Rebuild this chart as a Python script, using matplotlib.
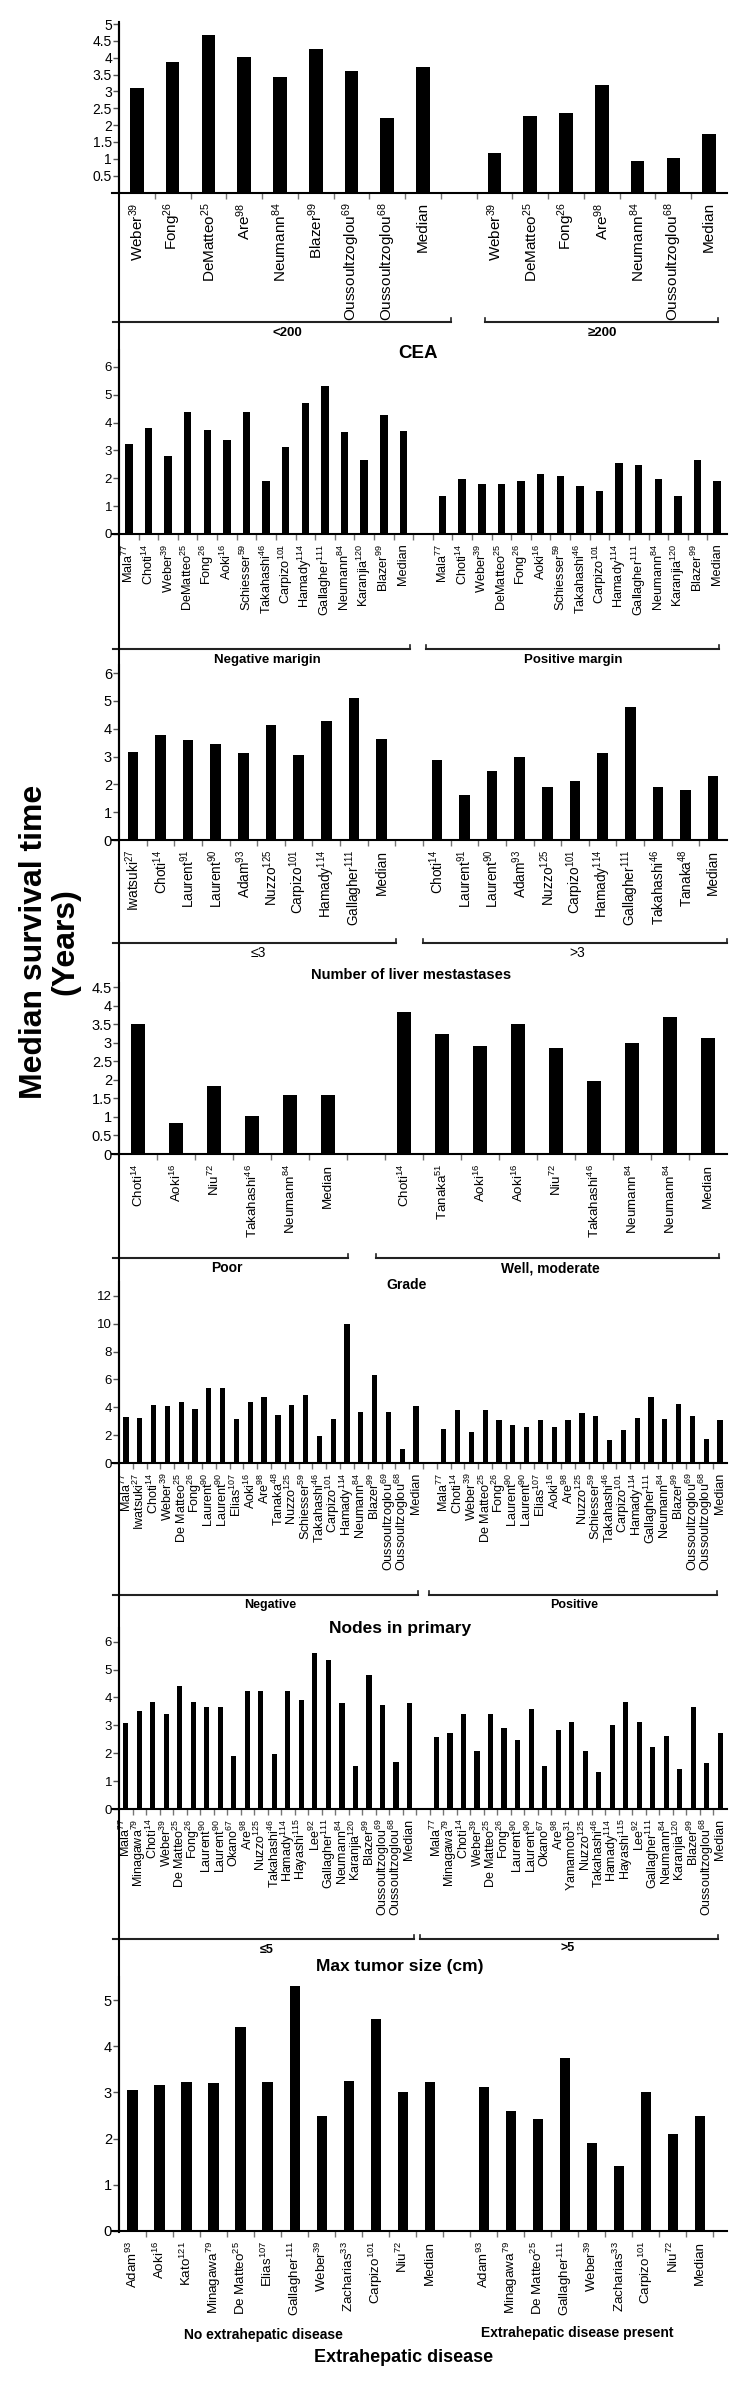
import numpy as np
import matplotlib
matplotlib.use("Agg")
import matplotlib.pyplot as plt
from matplotlib.lines import Line2D

plt.rcParams['font.family'] = ['Liberation Sans', 'DejaVu Sans']
plt.rcParams['mathtext.default'] = 'regular'

NARROW = ['Liberation Sans Narrow', 'Liberation Sans', 'DejaVu Sans']
REGULAR = ['Liberation Sans', 'DejaVu Sans']

# ---- data (years) ----
# CEA
cea_low_labels = ['Weber$^{39}$', 'Fong$^{26}$', 'DeMatteo$^{25}$', 'Are$^{98}$', 'Neumann$^{84}$',
                  'Blazer$^{99}$', 'Oussoultzoglou$^{69}$', 'Oussoultzoglou$^{68}$', 'Median']
cea_low_vals = [3.1, 3.86, 4.68, 4.02, 3.42, 4.25, 3.61, 2.2, 3.72]
cea_high_labels = ['Weber$^{39}$', 'DeMatteo$^{25}$', 'Fong$^{26}$', 'Are$^{98}$', 'Neumann$^{84}$',
                   'Oussoultzoglou$^{68}$', 'Median']
cea_high_vals = [1.18, 2.27, 2.35, 3.18, 0.92, 1.01, 1.73]

# margin
margin_labels = ['Mala$^{77}$', 'Choti$^{14}$', 'Weber$^{39}$', 'DeMatteo$^{25}$', 'Fong$^{26}$',
                 'Aoki$^{16}$', 'Schiesser$^{59}$', 'Takahashi$^{46}$', 'Carpizo$^{101}$',
                 'Hamady$^{114}$', 'Gallagher$^{111}$', 'Neumann$^{84}$', 'Karanjia$^{120}$',
                 'Blazer$^{99}$', 'Median']
neg_margin_vals = [3.23, 3.81, 2.8, 4.38, 3.72, 3.39, 4.37, 1.92, 3.14, 4.71, 5.3, 3.66, 2.67, 4.28, 3.7]
pos_margin_vals = [1.38, 1.96, 1.81, 1.81, 1.89, 2.14, 2.08, 1.74, 1.55, 2.55, 2.47, 1.96, 1.38, 2.67, 1.92]

# number of liver metastases
few_mets_labels = ['Iwatsuki$^{27}$', 'Choti$^{14}$', 'Laurent$^{91}$', 'Laurent$^{90}$', 'Adam$^{93}$',
                   'Nuzzo$^{125}$', 'Carpizo$^{101}$', 'Hamady$^{114}$', 'Gallagher$^{111}$', 'Median']
few_mets_vals = [3.17, 3.78, 3.6, 3.46, 3.13, 4.12, 3.04, 4.28, 5.11, 3.63]
many_mets_labels = ['Choti$^{14}$', 'Laurent$^{91}$', 'Laurent$^{90}$', 'Adam$^{93}$', 'Nuzzo$^{125}$',
                    'Carpizo$^{101}$', 'Hamady$^{114}$', 'Gallagher$^{111}$', 'Takahashi$^{46}$',
                    'Tanaka$^{48}$', 'Median']
many_mets_vals = [2.88, 1.63, 2.48, 3.0, 1.89, 2.14, 3.14, 4.77, 1.9, 1.79, 2.3]

# grade
poor_labels = ['Choti$^{14}$', 'Aoki$^{16}$', 'Niu$^{72}$', 'Takahashi$^{46}$', 'Neumann$^{84}$', 'Median']
poor_vals = [3.51, 0.84, 1.84, 1.03, 1.6, 1.6]
well_labels = ['Choti$^{14}$', 'Tanaka$^{51}$', 'Aoki$^{16}$', 'Aoki$^{16}$', 'Niu$^{72}$',
               'Takahashi$^{46}$', 'Neumann$^{84}$', 'Neumann$^{84}$', 'Median']
well_vals = [3.84, 3.23, 2.92, 3.5, 2.85, 1.96, 3.0, 3.7, 3.12]

# nodes in primary
node_neg_labels = ['Mala$^{77}$', 'Iwatsuki$^{27}$', 'Choti$^{14}$', 'Weber$^{39}$', 'De Matteo$^{25}$',
                   'Fong$^{26}$', 'Laurent$^{90}$', 'Laurent$^{90}$', 'Elias$^{107}$', 'Aoki$^{16}$',
                   'Are$^{98}$', 'Tanaka$^{48}$', 'Nuzzo$^{125}$', 'Schiesser$^{59}$', 'Takahashi$^{46}$',
                   'Carpizo$^{101}$', 'Hamady$^{114}$', 'Neumann$^{84}$', 'Blazer$^{99}$',
                   'Oussoultzoglou$^{69}$', 'Oussoultzoglou$^{68}$', 'Median']
node_neg_vals = [3.3, 3.2, 4.2, 4.07, 4.38, 3.9, 5.38, 5.38, 3.16, 4.38, 4.71, 3.47, 4.2, 4.86,
                 1.91, 3.13, 10.0, 3.68, 6.29, 3.64, 1.0, 4.07]
node_pos_labels = ['Mala$^{77}$', 'Choti$^{14}$', 'Weber$^{39}$', 'De Matteo$^{25}$', 'Fong$^{26}$',
                   'Laurent$^{90}$', 'Laurent$^{90}$', 'Elias$^{107}$', 'Aoki$^{16}$', 'Are$^{98}$',
                   'Nuzzo$^{125}$', 'Schiesser$^{59}$', 'Takahashi$^{46}$', 'Carpizo$^{101}$',
                   'Hamady$^{114}$', 'Gallagher$^{111}$', 'Neumann$^{84}$', 'Blazer$^{99}$',
                   'Oussoultzoglou$^{69}$', 'Oussoultzoglou$^{68}$', 'Median']
node_pos_vals = [2.46, 3.8, 2.22, 3.8, 3.06, 2.73, 2.56, 3.06, 2.56, 3.06, 3.59, 3.37, 1.63,
                 2.39, 3.23, 4.74, 3.18, 4.23, 3.37, 1.75, 3.06]

# max tumor size
small_tumor_labels = ['Mala$^{77}$', 'Minagawa$^{79}$', 'Choti$^{14}$', 'Weber$^{39}$', 'De Matteo$^{25}$',
                      'Fong$^{26}$', 'Laurent$^{90}$', 'Laurent$^{90}$', 'Okano$^{67}$', 'Are$^{98}$',
                      'Nuzzo$^{125}$', 'Takahashi$^{46}$', 'Hamady$^{114}$', 'Hayashi$^{115}$', 'Lee$^{92}$',
                      'Gallagher$^{111}$', 'Neumann$^{84}$', 'Karanjia$^{120}$', 'Blazer$^{99}$',
                      'Oussoultzoglou$^{69}$', 'Oussoultzoglou$^{68}$', 'Median']
small_tumor_vals = [3.08, 3.5, 3.83, 3.41, 4.42, 3.83, 3.66, 3.66, 1.9, 4.24, 4.24, 1.97, 4.24,
                    3.89, 5.58, 5.33, 3.79, 1.55, 4.8, 3.72, 1.67, 3.79]
large_tumor_labels = ['Mala$^{77}$', 'Minagawa$^{79}$', 'Choti$^{14}$', 'Weber$^{39}$', 'De Matteo$^{25}$',
                      'Fong$^{26}$', 'Laurent$^{90}$', 'Laurent$^{90}$', 'Okano$^{67}$', 'Are$^{98}$',
                      'Yamamoto$^{31}$', 'Nuzzo$^{125}$', 'Takahashi$^{46}$', 'Hamady$^{114}$',
                      'Hayashi$^{115}$', 'Lee$^{92}$', 'Gallagher$^{111}$', 'Neumann$^{84}$',
                      'Karanjia$^{120}$', 'Blazer$^{99}$', 'Oussoultzoglou$^{68}$', 'Median']
large_tumor_vals = [2.59, 2.71, 3.42, 2.09, 3.42, 2.92, 2.49, 3.58, 1.53, 2.83, 3.13, 2.09, 1.34,
                    3.0, 3.85, 3.13, 2.24, 2.61, 1.44, 3.64, 1.66, 2.72]

# extrahepatic disease
no_ehd_labels = ['Adam$^{93}$', 'Aoki$^{16}$', 'Kato$^{121}$', 'Minagawa$^{79}$', 'De Matteo$^{25}$',
                 'Elias$^{107}$', 'Gallagher$^{111}$', 'Weber$^{39}$', 'Zacharias$^{33}$',
                 'Carpizo$^{101}$', 'Niu$^{72}$', 'Median']
no_ehd_vals = [3.06, 3.16, 3.22, 3.2, 4.41, 3.22, 5.3, 2.5, 3.24, 4.58, 3.0, 3.22]
ehd_labels = ['Adam$^{93}$', 'Minagawa$^{79}$', 'De Matteo$^{25}$', 'Gallagher$^{111}$', 'Weber$^{39}$',
              'Zacharias$^{33}$', 'Carpizo$^{101}$', 'Niu$^{72}$', 'Median']
ehd_vals = [3.12, 2.6, 2.42, 3.75, 1.91, 1.41, 3.0, 2.1, 2.5]

W, H = 740, 2387
X0, X1 = 119, 727
fig = plt.figure(figsize=(W / 100, H / 100), dpi=100)


def fx(x):
    return x / W


def fy(y):
    return 1 - y / H


def panel(base, ppu, ytop, yticks, l_lab, l_val, r_lab, r_val, tick_family, ytick_size,
          lab_family, lab_size, extra=0.0):
    n = len(l_lab) + 1 + len(r_lab)
    ax = fig.add_axes([fx(X0), fy(base), (X1 - X0) / W, ytop * ppu / H])
    pos = list(range(len(l_lab))) + list(range(len(l_lab) + 1, n))
    ax.bar(pos, list(l_val) + list(r_val), width=0.38, color='black')
    ax.set_xlim(-0.5, n - 0.5 + extra)
    ax.set_ylim(0, ytop)
    ax.set_xticks(pos)
    ax.set_xticklabels(list(l_lab) + list(r_lab), rotation=90, fontsize=lab_size,
                       family=lab_family)
    bounds = np.arange(0.5, n - 0.5 + (1 if extra else 0))
    ax.set_xticks(bounds, minor=True)
    ax.tick_params(axis='x', which='major', length=0, pad=7)
    ax.tick_params(axis='x', which='minor', length=4, width=1, color='#777777')
    ax.set_yticks(yticks)
    ax.set_yticklabels([f'{v:g}' for v in yticks], fontsize=ytick_size, family=tick_family)
    ax.tick_params(axis='y', length=4, width=1, color='#555555', pad=1)
    for s in ['top', 'right']:
        ax.spines[s].set_visible(False)
    for s in ['left', 'bottom']:
        ax.spines[s].set_linewidth(1.5)
    ax.add_line(Line2D([-0.012, 0], [0, 0], transform=ax.transAxes, clip_on=False,
                       color='black', lw=1.5))
    ax.patch.set_alpha(0)
    return ax


def bracket(y, segs):
    for x0, x1 in segs:
        fig.add_artist(Line2D([fx(x0), fx(x1)], [fy(y), fy(y)], color='#222222', lw=1.5))
        for xe in (x0, x1):
            if xe > 120:
                fig.add_artist(Line2D([fx(xe), fx(xe)], [fy(y), fy(y - 4)], color='#222222', lw=1.2))


def label(x, y, s, size, family=REGULAR, weight='bold'):
    fig.text(fx(x), fy(y), s, ha='center', va='center', fontsize=size, family=family,
             fontweight=weight)


# CEA
panel(192.5, 33.7, 5, np.arange(0.5, 5.01, 0.5), cea_low_labels, cea_low_vals,
      cea_high_labels, cea_high_vals, NARROW, 10, NARROW, 11)
bracket(322, [(113, 451), (485, 718)])
label(287, 333, '<200', 9.5)
label(602, 333, '≥200', 9.5)
label(418, 353, 'CEA', 13.5)

# margin
panel(534, 27.85, 6.6, np.arange(0, 7), margin_labels, neg_margin_vals,
      margin_labels, pos_margin_vals, REGULAR, 9.5, REGULAR, 9.2)
bracket(649, [(113, 410), (426, 719)])
label(267, 660, 'Negative marigin', 9.5)
label(573, 660, 'Positive margin', 9.5)

# liver metastases
panel(840, 27.8, 6.3, np.arange(0, 7), few_mets_labels, few_mets_vals,
      many_mets_labels, many_mets_vals, NARROW, 10.5, REGULAR, 9.8)
bracket(943, [(113, 396), (423, 727)])
label(258, 953, '≤3', 10, NARROW, 'normal')
label(577, 953, '>3', 10, NARROW, 'normal')
label(411, 975, 'Number of liver mestastases', 10.5, NARROW)

# grade
panel(1154, 37.1, 4.6, np.arange(0, 4.51, 0.5), poor_labels, poor_vals,
      well_labels, well_vals, NARROW, 10.5, REGULAR, 9.6)
bracket(1258, [(113, 348), (376, 719)])
label(227, 1268, 'Poor', 10)
label(550, 1268, 'Well, moderate', 10)
label(407, 1285, 'Grade', 10)

# nodes in primary
panel(1463, 13.92, 13, np.arange(0, 13, 2), node_neg_labels, node_neg_vals,
      node_pos_labels, node_pos_vals, REGULAR, 9.5, REGULAR, 9.1)
bracket(1595, [(113, 418), (429, 717)])
label(270, 1605, 'Negative', 9)
label(574, 1605, 'Positive', 9)
label(400, 1629, 'Nodes in primary', 12.5)

# max tumor size
panel(1809, 27.9, 6.5, np.arange(0, 7), small_tumor_labels, small_tumor_vals,
      large_tumor_labels, large_tumor_vals, REGULAR, 9.5, REGULAR, 9.0)
bracket(1939, [(113, 414), (420, 718)])
label(267, 1950, '≤5', 9)
label(568, 1948, '>5', 9)
label(400, 1967, 'Max tumor size (cm)', 12.5)

# extrahepatic disease
panel(2231, 46.2, 5.5, np.arange(0, 6), no_ehd_labels, no_ehd_vals,
      ehd_labels, ehd_vals, NARROW, 10.5, REGULAR, 9.6, extra=0.5)
label(263, 2335, 'No extrahepatic disease', 10, NARROW)
label(577, 2333, 'Extrahepatic disease present', 10, NARROW)
label(404, 2357, 'Extrahepatic disease', 13, NARROW)

# continuous value axis
fig.add_artist(Line2D([fx(X0), fx(X0)], [fy(22), fy(2232)], color='black', lw=1.5))

fig.text(fx(50), fy(942), 'Median survival time\n(Years)', rotation=90, ha='center',
         va='center', fontsize=23, fontweight='bold', linespacing=1.05)

fig.savefig('out.png', dpi=100)
